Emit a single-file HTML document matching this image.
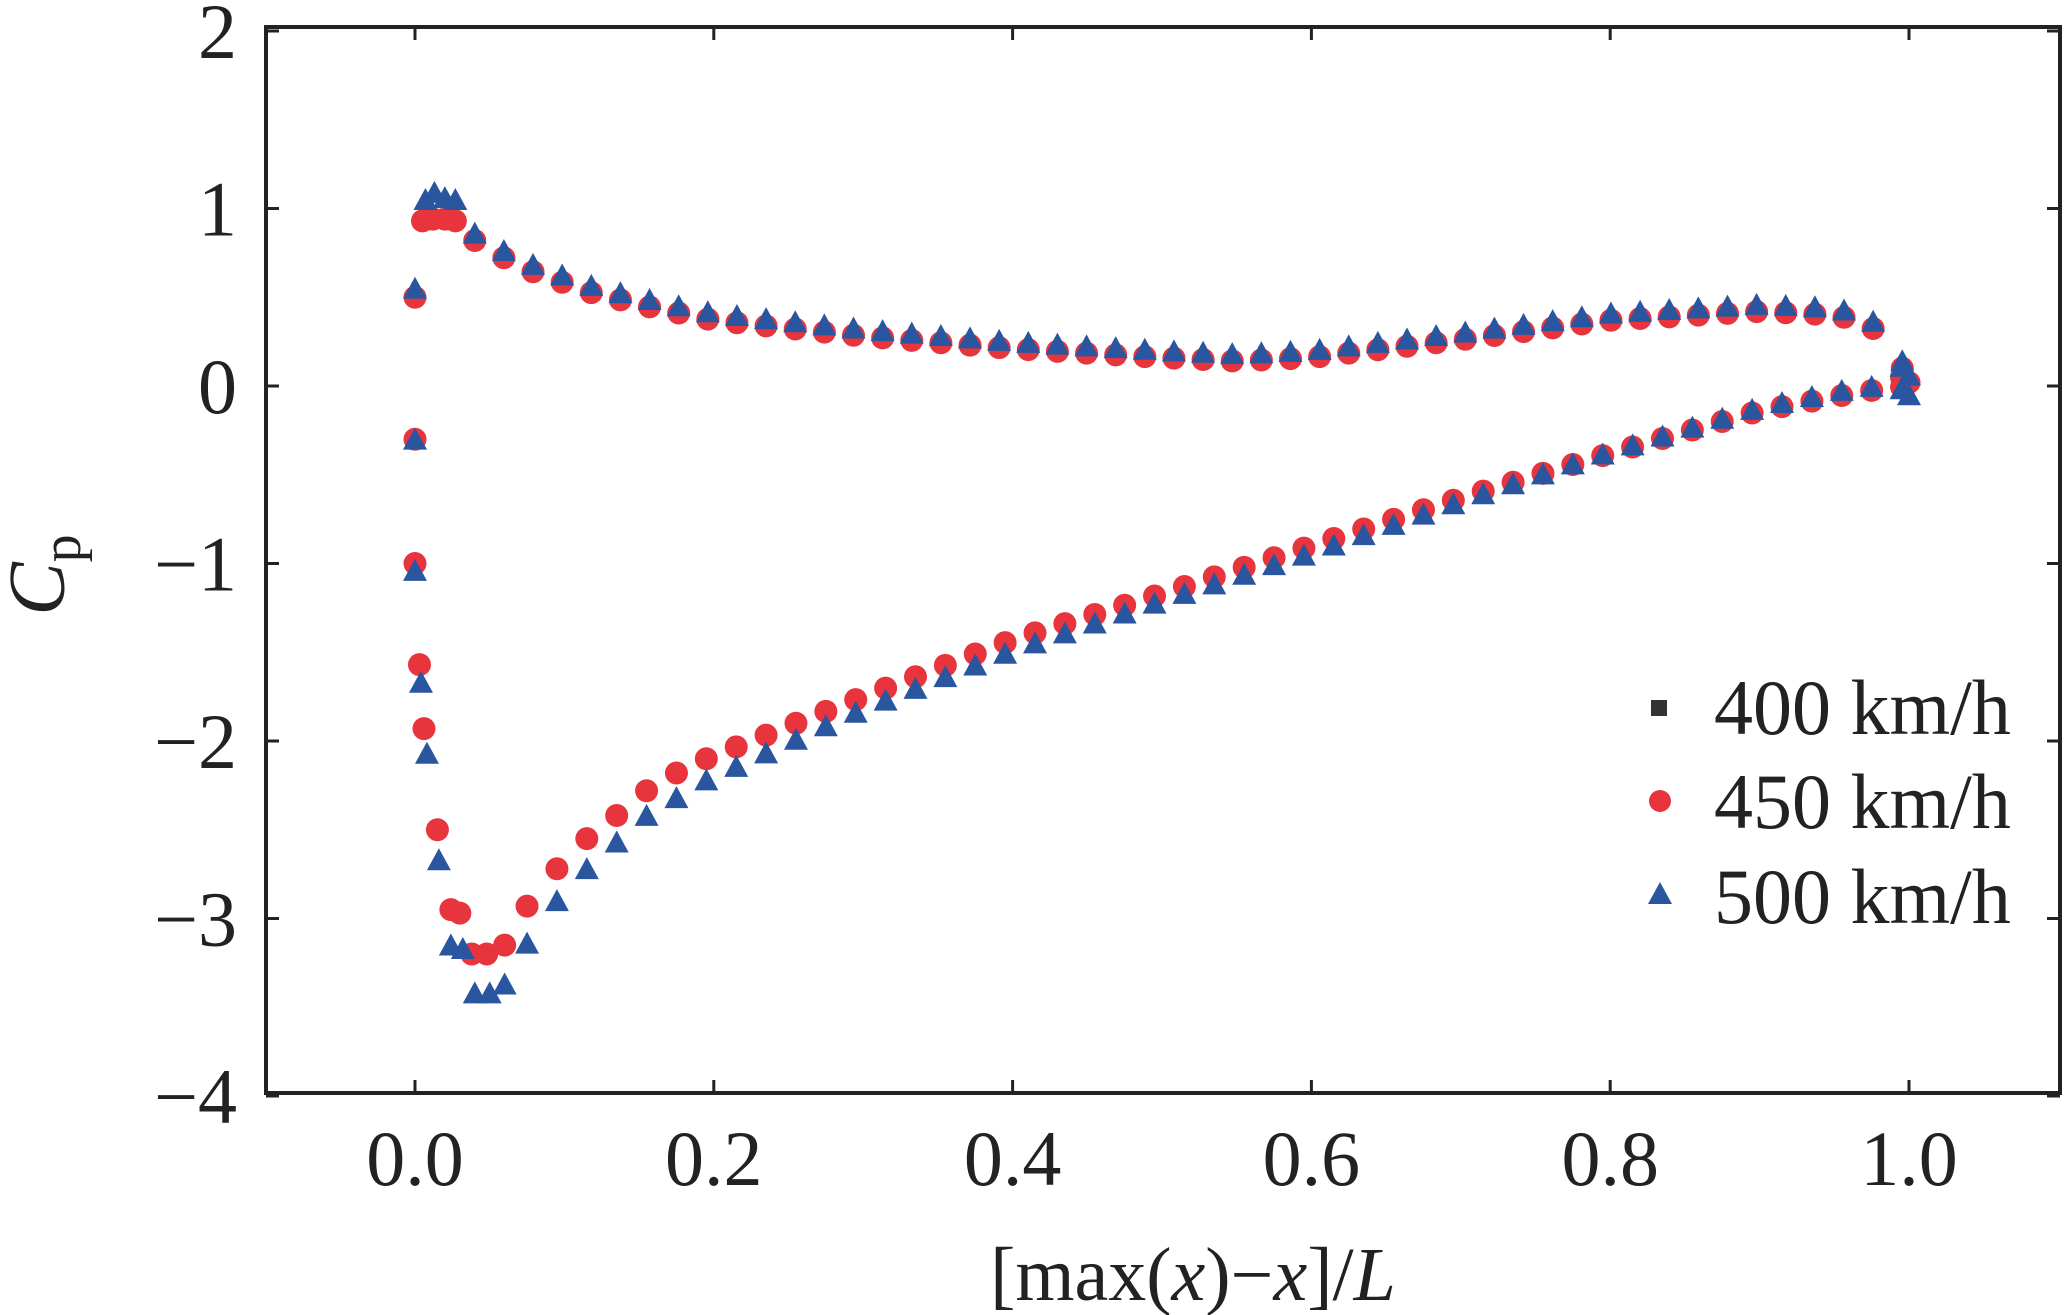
<!DOCTYPE html>
<html><head><meta charset="utf-8"><style>
html,body{margin:0;padding:0;background:#fff}
svg{display:block}
text{font-family:"Liberation Serif",serif;fill:#222}
</style></head><body>
<svg id="s" width="2064" height="1315" viewBox="0 0 2064 1315" xmlns="http://www.w3.org/2000/svg">
<rect x="266" y="27" width="1794" height="1066" fill="none" stroke="#222" stroke-width="4"/>
<g id="ticks" stroke="#222" stroke-width="3"></g>
<g font-size="78" text-anchor="end" id="yl"></g>
<g font-size="78" text-anchor="middle" id="xl"></g>
<text x="0" y="0" font-size="80" transform="translate(64,575) rotate(-90)" text-anchor="middle"><tspan font-style="italic">C</tspan><tspan font-size="56" dy="16">p</tspan></text>
<text x="1193" y="1300" font-size="76" text-anchor="middle">[max(<tspan font-style="italic">x</tspan>)−<tspan font-style="italic">x</tspan>]/<tspan font-style="italic">L</tspan></text>
<g id="pts"></g>
<g font-size="78">
<rect x="1651" y="700" width="16" height="16" fill="#333"/>
<text x="1714" y="734">400 km/h</text>
<circle cx="1660" cy="801" r="11" fill="#e8343d"/>
<text x="1714" y="828">450 km/h</text>
<polygon points="1660,882 1672,904 1648,904" fill="#2a56a0"/>
<text x="1714" y="923">500 km/h</text>
</g>
</svg>
<script>
var NS="http://www.w3.org/2000/svg";
function X(v){return 415+1494*v;}
function Y(v){return 386-177.5*v;}
function el(p,t,a){var e=document.createElementNS(NS,t);for(var k in a)e.setAttribute(k,a[k]);document.getElementById(p).appendChild(e);return e;}
for(var i=-4;i<=2;i++){var y=Y(i);el('ticks','line',{x1:266,x2:279,y1:y,y2:y});el('ticks','line',{x1:2060,x2:2047,y1:y,y2:y});
var t=el('yl','text',{x:237,y:y+27});t.textContent=(i<0?'−':'')+Math.abs(i);}
for(var i=0;i<=5;i++){var v=i*0.2,x=X(v);el('ticks','line',{x1:x,x2:x,y1:1093,y2:1080});el('ticks','line',{x1:x,x2:x,y1:27,y2:40});
var t=el('xl','text',{x:x,y:1185});t.textContent=v.toFixed(1);}
function interp(k,x){for(var i=0;i<k.length-1;i++){if(x<=k[i+1][0]){var a=k[i],b=k[i+1];return a[1]+(b[1]-a[1])*(x-a[0])/(b[0]-a[0]);}}return k[k.length-1][1];}
var upR=[[0.04,0.82],[0.06,0.72],[0.08,0.64],[0.1,0.58],[0.12,0.52],[0.14,0.48],[0.16,0.44],[0.2,0.37],[0.3,0.28],[0.4,0.21],[0.5,0.16],[0.55,0.14],[0.6,0.16],[0.7,0.26],[0.8,0.37],[0.9,0.42],[0.95,0.40],[0.97,0.36],[0.98,0.3],[0.99,0.2],[1.0,0.02]];
var loR=[[0.075,-2.93],[0.095,-2.72],[0.115,-2.55],[0.135,-2.42],[0.155,-2.28],[0.175,-2.18],[0.195,-2.1],[0.3,-1.75],[0.4,-1.43],[0.5,-1.17],[0.6,-0.9],[0.7,-0.63],[0.8,-0.38],[0.9,-0.14],[0.97,-0.03],[1.0,0]];
var loB=[[0.075,-3.17],[0.095,-2.93],[0.115,-2.75],[0.135,-2.6],[0.155,-2.45],[0.175,-2.35],[0.195,-2.25],[0.3,-1.85],[0.4,-1.52],[0.5,-1.24],[0.6,-0.97],[0.7,-0.68],[0.8,-0.4],[0.9,-0.15],[0.97,-0.03],[1.0,-0.05]];
var R=[],B=[];
R.push([0,0.5],[0.005,0.93],[0.012,0.94],[0.02,0.94],[0.027,0.93]);
B.push([0,0.52],[0.007,1.02],[0.013,1.06],[0.02,1.03],[0.027,1.02]);
for(var x=0.04;x<=1.0001;x+=0.0195){R.push([x,interp(upR,x)]);B.push([x,interp(upR,x)+0.01]);}
R.push([0.995,0.05],[1,0.02]);B.push([0.995,0.08],[1,0.03],[1,-0.08]);
var lr=[[0,-0.3],[0,-1.0],[0.003,-1.57],[0.006,-1.93],[0.015,-2.5],[0.024,-2.95],[0.03,-2.97],[0.038,-3.2],[0.048,-3.2],[0.06,-3.15]];
var lb=[[0,-0.33],[0,-1.07],[0.004,-1.7],[0.008,-2.1],[0.016,-2.7],[0.024,-3.18],[0.032,-3.2],[0.04,-3.45],[0.05,-3.45],[0.06,-3.4]];
R=R.concat(lr);B=B.concat(lb);
for(var x=0.075;x<=1.0001;x+=0.02){R.push([x,interp(loR,x)]);B.push([x,interp(loB,x)]);}
R.forEach(function(p){el('pts','circle',{cx:X(p[0]),cy:Y(p[1]),r:11.5,fill:'#e8343d'});});
B.forEach(function(p){var cx=X(p[0]),cy=Y(p[1])-4;el('pts','polygon',{points:cx+','+(cy-13)+' '+(cx+12)+','+(cy+9)+' '+(cx-12)+','+(cy+9),fill:'#2a56a0'});});
</script>
</body></html>
